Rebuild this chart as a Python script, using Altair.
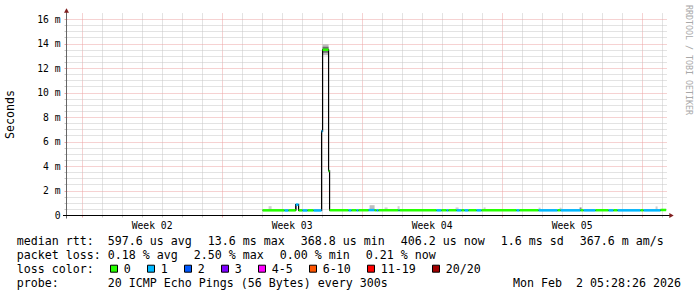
import altair as alt
import pandas as pd

# ------------------------------------------------------------------ data
LOSS_LABELS = ["0", "1", "2", "3", "4-5", "6-10", "11-19", "20/20"]
LOSS_COLORS = ["#26ff00", "#00b8ff", "#0059ff", "#7e00ff",
               "#ff00ff", "#ff5500", "#ff0000", "#a10000"]

# median rtt, one entry per run of samples with the same loss colour
RUN_START = [
    "2026-01-13T01:12Z", "2026-01-14T03:36Z", "2026-01-14T08:24Z", "2026-01-14T17:00Z",
    "2026-01-14T20:24Z", "2026-01-15T01:12Z", "2026-01-15T07:12Z", "2026-01-15T14:24Z",
    "2026-01-16T00:00Z", "2026-01-16T01:12Z", "2026-01-16T08:24Z", "2026-01-16T09:36Z",
    "2026-01-17T08:24Z", "2026-01-17T12:00Z", "2026-01-17T18:00Z", "2026-01-17T20:24Z",
    "2026-01-18T08:24Z", "2026-01-18T15:36Z", "2026-01-18T18:00Z", "2026-01-18T20:24Z",
    "2026-01-19T20:24Z", "2026-01-19T21:36Z", "2026-01-21T18:00Z", "2026-01-22T00:00Z",
    "2026-01-22T06:00Z", "2026-01-22T08:24Z", "2026-01-22T18:00Z", "2026-01-23T00:00Z",
    "2026-01-23T03:36Z", "2026-01-23T08:24Z", "2026-01-23T18:00Z", "2026-01-24T00:00Z",
    "2026-01-25T18:00Z", "2026-01-25T21:36Z", "2026-01-26T20:24Z", "2026-01-27T19:12Z",
    "2026-01-27T22:48Z", "2026-01-28T22:48Z", "2026-01-29T02:24Z", "2026-01-29T16:48Z",
    "2026-01-30T08:24Z", "2026-01-30T14:24Z", "2026-01-30T19:12Z", "2026-01-31T22:48Z",
    "2026-02-01T02:24Z", "2026-02-01T22:48Z",
]
RUN_MEDIAN_MS = [
    0.38, 0.37, 0.38, 0.85,
    0.38, 0.37, 0.38, 0.37,
    6.85, 13.5, 3.6, 0.39,
    0.38, 0.39, 0.38, 0.39,
    0.40, 0.39, 0.38, 0.39,
    0.38, 0.39, 0.38, 0.39,
    0.38, 0.39, 0.38, 0.39,
    0.38, 0.39, 0.38, 0.39,
    0.38, 0.39, 0.38, 0.39,
    0.38, 0.39, 0.38, 0.39,
    0.38, 0.39, 0.38, 0.39,
    0.38, 0.41,
]
RUN_LOSS = [
    "0", "1", "0", "1",
    "0", "1", "0", "1",
    "1", "0", "0", "0",
    "1", "0", "1", "0",
    "1", "0", "1", "0",
    "1", "0", "1", "0",
    "1", "0", "1", "0",
    "1", "0", "1", "0",
    "1", "0", "1", "0",
    "1", "0", "1", "0",
    "1", "0", "1", "0",
    "1", "0",
]
LAST_SAMPLE = "2026-02-02T05:28Z"

# smoke (spread of the individual pings)
SMOKE_START = ["2026-01-16T01:12Z", "2026-01-16T01:12Z", "2026-01-14T16:48Z", "2026-01-13T08:24Z",
               "2026-01-18T09:36Z", "2026-01-19T03:36Z", "2026-01-19T19:12Z", "2026-01-22T16:48Z",
               "2026-01-24T02:24Z", "2026-01-26T20:24Z", "2026-01-27T21:36Z", "2026-01-28T21:36Z",
               "2026-02-01T16:48Z"]
SMOKE_END = ["2026-01-16T08:24Z", "2026-01-16T08:24Z", "2026-01-14T18:00Z", "2026-01-13T12:00Z",
             "2026-01-18T15:36Z", "2026-01-19T07:12Z", "2026-01-19T21:36Z", "2026-01-22T20:24Z",
             "2026-01-24T04:48Z", "2026-01-26T22:48Z", "2026-01-28T00:00Z", "2026-01-29T00:00Z",
             "2026-02-01T19:12Z"]
SMOKE_LO_MS = [13.05, 13.25, 0.42, 0.45, 0.45, 0.45, 0.45, 0.45, 0.45, 0.45, 0.45, 0.45, 0.45]
SMOKE_HI_MS = [13.95, 13.75, 0.90, 0.72, 0.80, 0.62, 0.72, 0.62, 0.62, 0.60, 0.60, 0.62, 0.70]
SMOKE_DENSITY = [3, 8, 9, 2, 3, 2, 2, 2, 2, 2, 2, 6, 2]

Y_MAX_MS = 16.5
X_DOMAIN = ["2026-01-03T06:30Z", "2026-02-02T06:30Z"]

LINE1_ITEMS = ["median rtt:  597.6 us avg", "13.6 ms max", "368.8 us min",
               "406.2 us now", "1.6 ms sd", "367.6 m am/s"]
LINE2_ITEMS = ["packet loss: 0.18 % avg", "2.50 % max", "0.00 % min", "0.21 % now"]
LINE3_TITLE = "loss color:"
LINE4_ITEMS = ["probe:       20 ICMP Echo Pings (56 Bytes) every 300s"]
DATE_TEXT = "Mon Feb  2 05:28:26 2026"
WATERMARK = "RRDTOOL / TOBI OETIKER"
Y_TITLE = "Seconds"

# ------------------------------------------------------------------ layout
W, H = 697, 297
PLOT_W, PLOT_H = 600, 202
PAD_L, PAD_T = 67, 13
PAD_R = W - PAD_L - PLOT_W
PAD_B = H - PAD_T - PLOT_H


def ax(v):
    return v - PAD_L


def ay(v):
    return v - PAD_T


FONT = "DejaVu Sans Mono"
LEG_SIZE = 11.63
AX_SIZE = 9.7
CW = LEG_SIZE * 0.6021
GAP = 16
LEG_X0 = 16.7
BASELINES = [245.3, 259.1, 272.9, 286.7]
NB = "\u00a0"


def ts(s):
    return int(pd.Timestamp(s).value // 10**6)


xscale = alt.Scale(type="utc", domain=[ts(X_DOMAIN[0]), ts(X_DOMAIN[1])])
yscale = alt.Scale(domain=[0, Y_MAX_MS / 1000], nice=False, zero=False)

DAY_TICKS = [int(t.value // 10**6) for t in pd.date_range("2026-01-04", "2026-02-02", freq="D", tz="UTC")]
Y_GRID = [i * 0.0005 for i in range(33)]

GRID_RED = "#eca4a4"
GRID_GRAY = "#c6c6c6"
MAJOR_X = "utcFormat(datum.value, '%w') === '0'"
MAJOR_Y = "round(datum.value * 2000) % 4 === 0"

x_axis = alt.Axis(
    values=DAY_TICKS, title=None, domain=False,
    grid=True, gridDash=[1, 1],
    gridColor={"condition": {"test": MAJOR_X, "value": GRID_RED}, "value": GRID_GRAY},
    ticks=True, tickSize=2,
    tickColor={"condition": {"test": MAJOR_X, "value": GRID_RED}, "value": GRID_GRAY},
    labelExpr="utcFormat(datum.value, '%w') === '3' ? 'Week ' + utcFormat(datum.value, '%V') : ''",
    labelOffset=10, labelPadding=8, labelBaseline="middle",
    labelFont=FONT, labelFontSize=AX_SIZE, labelColor="black",
    labelOverlap=False, labelFlush=False,
)
y_axis = alt.Axis(
    values=Y_GRID, title=Y_TITLE, domain=False,
    titleFont=FONT, titleFontSize=LEG_SIZE, titleFontWeight="normal", titleColor="black",
    titleX=ax(10.5), titleY=PLOT_H / 2, titleAngle=270, titleAlign="center", titleBaseline="middle",
    grid=True, gridDash=[1, 1],
    gridColor={"condition": {"test": MAJOR_Y, "value": GRID_RED}, "value": GRID_GRAY},
    ticks=True, tickSize=3,
    tickColor={"condition": {"test": MAJOR_Y, "value": GRID_RED}, "value": GRID_GRAY},
    labelExpr=("round(datum.value * 2000) % 4 === 0 ? (datum.value === 0 ? '0" + NB + NB +
               "' : format(datum.value * 1000, 'd') + ' m') : ''"),
    labelPadding=4, labelFont=FONT, labelFontSize=AX_SIZE, labelColor="black",
    labelOverlap=False,
)

# ------------------------------------------------------------------ tables
runs = pd.DataFrame({"start": RUN_START, "median_ms": RUN_MEDIAN_MS, "loss": RUN_LOSS})
runs["end"] = RUN_START[1:] + [LAST_SAMPLE]
runs["median"] = runs["median_ms"] / 1000

line_df = pd.DataFrame({"t": RUN_START + [LAST_SAMPLE],
                        "v": [m / 1000 for m in RUN_MEDIAN_MS + [RUN_MEDIAN_MS[-1]]]})

smoke = pd.DataFrame({"start": SMOKE_START, "end": SMOKE_END,
                      "lo": [v / 1000 for v in SMOKE_LO_MS],
                      "hi": [v / 1000 for v in SMOKE_HI_MS],
                      "density": SMOKE_DENSITY})

leg_rows = []
for line, items in [(0, LINE1_ITEMS), (1, LINE2_ITEMS), (2, [LINE3_TITLE]), (3, LINE4_ITEMS)]:
    x = LEG_X0
    for it in items:
        leg_rows.append({"x": ax(x), "y": ay(BASELINES[line]), "text": it.replace(" ", NB)})
        x += len(it) * CW + GAP
leg_df = pd.DataFrame(leg_rows)

sq_rows = []
x = LEG_X0 + len(LINE3_TITLE) * CW + GAP
for lab in LOSS_LABELS:
    sq_rows.append({"sx": ax(round(x + 4)), "tx": ax(x + 14), "label": lab})
    x += 14 + len(lab) * CW + GAP
sq_df = pd.DataFrame(sq_rows)

one = pd.DataFrame({"k": [0]})

# ------------------------------------------------------------------ layers
smoke_layer = alt.Chart(smoke).mark_rect().encode(
    x=alt.X("start:T", scale=xscale, axis=x_axis),
    x2="end:T",
    y=alt.Y("lo:Q", scale=yscale, axis=y_axis),
    y2="hi:Q",
    fill=alt.Fill("density:Q", scale=alt.Scale(domain=[0, 10], range=["#f2f2f2", "#505050"]), legend=None),
)

black_line = alt.Chart(line_df).mark_line(interpolate="step-after", color="black", strokeWidth=1.2).encode(
    x=alt.X("t:T", scale=xscale, axis=x_axis),
    y=alt.Y("v:Q", scale=yscale, axis=y_axis),
)

median_layer = alt.Chart(runs).mark_rule(strokeWidth=2.5).encode(
    x=alt.X("start:T", scale=xscale, axis=x_axis),
    x2="end:T",
    y=alt.Y("median:Q", scale=yscale, axis=y_axis),
    stroke=alt.Stroke("loss:N", scale=alt.Scale(domain=LOSS_LABELS, range=LOSS_COLORS), legend=None),
)

left_axis = alt.Chart(one).mark_rule(color="#666666", strokeWidth=1).encode(
    x=alt.value(-0.5), y=alt.value(-3), y2=alt.value(205.5))
bottom_axis = alt.Chart(one).mark_rule(color="black", strokeWidth=1).encode(
    x=alt.value(-4), x2=alt.value(605), y=alt.value(PLOT_H + 0.5))
arrow_up = alt.Chart(one).mark_point(shape="triangle-up", filled=True, size=25, color="#801f1f", opacity=1).encode(
    x=alt.value(-0.5), y=alt.value(-2.5))
arrow_right = alt.Chart(one).mark_point(shape="triangle-right", filled=True, size=25, color="#801f1f", opacity=1).encode(
    x=alt.value(604.5), y=alt.value(PLOT_H + 0.5))

legend_text = alt.Chart(leg_df).mark_text(
    align="left", baseline="alphabetic", font=FONT, fontSize=LEG_SIZE, color="black").encode(
    x=alt.X("x:Q", scale=None, axis=None),
    y=alt.Y("y:Q", scale=None, axis=None),
    text="text:N",
)
date_text = alt.Chart(one).mark_text(
    align="right", baseline="alphabetic", font=FONT, fontSize=LEG_SIZE, color="black").encode(
    x=alt.value(ax(681)), y=alt.value(ay(BASELINES[3])), text=alt.value(DATE_TEXT.replace(" ", NB)))
watermark = alt.Chart(one).mark_text(
    angle=90, align="center", baseline="middle", font=FONT, fontSize=8.3, color="#a8a8a8").encode(
    x=alt.value(ax(687.7)), y=alt.value(ay(60)), text=alt.value(WATERMARK.replace(" ", NB)))

squares = alt.Chart(sq_df).mark_square(size=49, filled=True, stroke="black", strokeWidth=1, opacity=1).encode(
    x=alt.X("sx:Q", scale=None, axis=None),
    y=alt.value(ay(268.7)),
    color=alt.Color("label:N", scale=alt.Scale(domain=LOSS_LABELS, range=LOSS_COLORS), legend=None),
)
square_labels = alt.Chart(sq_df).mark_text(
    align="left", baseline="alphabetic", font=FONT, fontSize=LEG_SIZE, color="black").encode(
    x=alt.X("tx:Q", scale=None, axis=None),
    y=alt.value(ay(BASELINES[2])),
    text="label:N",
)

chart = alt.layer(
    smoke_layer, black_line, median_layer,
    left_axis, bottom_axis, arrow_up, arrow_right,
    legend_text, date_text, watermark, squares, square_labels,
).properties(
    width=PLOT_W, height=PLOT_H,
    padding={"left": PAD_L, "top": PAD_T, "right": PAD_R, "bottom": PAD_B},
    autosize=alt.AutoSizeParams(type="none"),
    background="white",
).configure_view(stroke=None)

chart.save("out.html", embed_options={"renderer": "svg", "actions": False})
